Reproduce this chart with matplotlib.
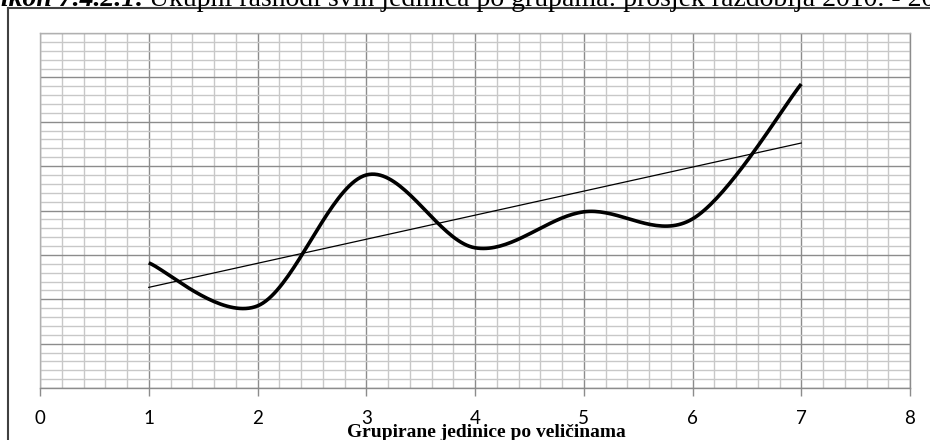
import numpy as np
import matplotlib
matplotlib.use("Agg")
import matplotlib.pyplot as plt
from matplotlib.lines import Line2D
from matplotlib.ticker import MultipleLocator

# ---- data ----
groups = [1, 2, 3, 4, 5, 6, 7]
values = [2.82, 1.85, 4.80, 3.16, 3.97, 3.81, 6.85]
xticks = [0, 1, 2, 3, 4, 5, 6, 7, 8]
xlabel = "Grupirane jedinice po veličinama"
title_num = "Grafikon 7.4.2.1:"
title_txt = "Ukupni rashodi svih jedinica po grupama: prosjek razdoblja 2010. - 2012."

W, H = 930, 440
fig = plt.figure(figsize=(W / 100, H / 100), dpi=100)

def fx(px):
    return px / W

def fy(py):
    return 1 - py / H

L, R, T, B = 40, 910, 33, 388
ax = fig.add_axes([fx(L), fy(B), (R - L) / W, (B - T) / H])

# smoothed line (Excel-like Bezier / Catmull-Rom)
xs = np.array(groups, float)
ys = np.array(values, float)
n = len(xs)
cx, cy = [], []
t = np.linspace(0, 1, 40)
for i in range(n - 1):
    im1 = max(i - 1, 0)
    ip2 = min(i + 2, n - 1)
    p0 = np.array([xs[i], ys[i]])
    p3 = np.array([xs[i + 1], ys[i + 1]])
    p1 = p0 + (p3 - np.array([xs[im1], ys[im1]])) / 6
    p2 = p3 - (np.array([xs[ip2], ys[ip2]]) - p0) / 6
    b = ((1 - t) ** 3)[:, None] * p0 + (3 * (1 - t) ** 2 * t)[:, None] * p1 \
        + (3 * (1 - t) * t ** 2)[:, None] * p2 + (t ** 3)[:, None] * p3
    cx.extend(b[:, 0])
    cy.extend(b[:, 1])
ax.plot(cx, cy, color="black", lw=2.6, solid_capstyle="butt", zorder=5)

# linear trend line
k, c = np.polyfit(xs, ys, 1)
tx = np.array([xs[0], xs[-1]])
ax.plot(tx, k * tx + c, color="black", lw=0.9, zorder=4)

ax.set_xlim(0, 8)
ax.set_ylim(0, 8)
ax.set_xticks(xticks)
ax.xaxis.set_minor_locator(MultipleLocator(0.2))
ax.yaxis.set_major_locator(MultipleLocator(1))
ax.yaxis.set_minor_locator(MultipleLocator(0.2))
ax.grid(which="major", color="#8c8c8c", lw=1.0)
ax.grid(which="minor", color="#c8c8c8", lw=1.0)
ax.set_axisbelow(True)
ax.tick_params(axis="y", which="both", left=False, labelleft=False)
ax.tick_params(axis="x", which="minor", bottom=False)
ax.tick_params(axis="x", which="major", length=6, width=1, color="#8c8c8c",
               pad=9.5, labelsize=13.5)
for lab in ax.get_xticklabels():
    lab.set_fontfamily("Lato")
for s in ["left", "top"]:
    ax.spines[s].set_color("#b0b0b0")
for s in ["right", "bottom"]:
    ax.spines[s].set_color("#8c8c8c")
for s in ax.spines.values():
    s.set_linewidth(1.0)

# outer frame (left and top edges visible)
fig.add_artist(Line2D([fx(8), fx(8)], [fy(8), fy(H + 5)], transform=fig.transFigure,
                      color="#404040", lw=1.5))
fig.add_artist(Line2D([fx(8), fx(W + 5)], [fy(8), fy(8)], transform=fig.transFigure,
                      color="#404040", lw=1.5))

# title (cut off at top of image, as in the reference)
fig.text(fx(144), fy(6), title_num, ha="right", va="baseline",
         family="Liberation Serif", fontsize=20, weight="bold", style="italic")
fig.text(fx(149), fy(6), title_txt, ha="left", va="baseline",
         family="Liberation Serif", fontsize=20)

fig.text(fx(486), fy(437), xlabel, ha="center", va="baseline",
         family="Liberation Serif", fontsize=14, weight="bold")

fig.savefig("out.png", dpi=100)
